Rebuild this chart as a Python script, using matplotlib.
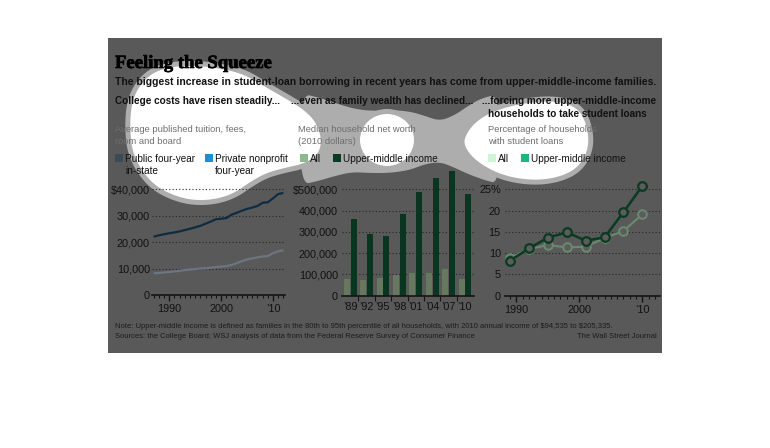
import numpy as np
import matplotlib
matplotlib.use("Agg")
import matplotlib.pyplot as plt
import matplotlib.patheffects as pe
from matplotlib.patches import Rectangle, Polygon, Ellipse
from matplotlib.ticker import MultipleLocator, FixedLocator

# ---------------- data ----------------
tuition_years = list(range(1987, 2013))
tuition_public = [8200, 8300, 8500, 8700, 8900, 9100, 9400, 9600, 9800, 10000,
                  10100, 10300, 10500, 10700, 10900, 11300, 12000, 12800, 13400,
                  13800, 14200, 14500, 14700, 15800, 16500, 16900]
tuition_private = [22000, 22500, 22900, 23300, 23600, 24000, 24500, 25000, 25500,
                   26100, 26900, 27700, 28600, 28800, 29000, 30300, 31000, 31800,
                   32500, 33000, 33600, 34800, 35000, 36500, 38100, 38500]
tuition_series = ["Public four-year\nin-state", "Private nonprofit\nfour-year"]
tuition_yticks = [0, 10000, 20000, 30000, 40000]
tuition_ylabels = ["0", "10,000", "20,000", "30,000", "$40,000"]

scf_years = [1989, 1992, 1995, 1998, 2001, 2004, 2007, 2010]
scf_labels = ["\u201989", "\u201992", "\u201995", "\u201998", "\u201901", "\u201904", "\u201907", "\u201910"]
networth_all = [79100, 73400, 81800, 96700, 106100, 107200, 126400, 77300]
networth_upper = [360000, 290000, 279000, 384000, 489000, 555000, 588000, 477000]
networth_yticks = [0, 100000, 200000, 300000, 400000, 500000]
networth_ylabels = ["0", "100,000", "200,000", "300,000", "400,000", "$500,000"]

loans_all = [8.9, 10.9, 11.9, 11.3, 11.5, 13.5, 15.2, 19.1]
loans_upper = [8.2, 11.1, 13.6, 14.9, 12.9, 13.7, 19.6, 25.8]
loans_yticks = [0, 5, 10, 15, 20, 25]
loans_ylabels = ["0", "5", "10", "15", "20", "25%"]

year_ticks = [1990, 2000, 2010]
year_labels = ["1990", "2000", "\u201910"]
group_series = ["All", "Upper-middle income"]

# ---------------- style ----------------
plt.rcParams["font.family"] = ["Liberation Sans", "DejaVu Sans"]
DIM_BG = "#595959"
RING = "#adadad"
INK = "#111111"
TICK_FS = 7.8

W, H = 770, 448
fig = plt.figure(figsize=(W / 100, H / 100), dpi=100)
renderer = fig.canvas.get_renderer()


def px_axes(l, t, r, b, z):
    return fig.add_axes([l / W, 1 - b / H, (r - l) / W, (b - t) / H], zorder=z)


def chaikin(pts, n=4):
    p = np.asarray(pts, float)
    for _ in range(n):
        nxt = np.roll(p, -1, axis=0)
        q = 0.75 * p + 0.25 * nxt
        r = 0.25 * p + 0.75 * nxt
        p = np.empty((2 * len(q), 2))
        p[0::2] = q
        p[1::2] = r
    return p


# ---------------- background / spotlight ----------------
bg = px_axes(0, 0, W, H, 0)
bg.set_xlim(0, W)
bg.set_ylim(H, 0)
bg.axis("off")

bg.add_patch(Rectangle((108, 38), 554, 315, facecolor=DIM_BG, edgecolor="none", zorder=1))

left_lobe = [(136, 91), (148, 76), (162, 69), (179, 66), (200, 66), (216, 68), (232, 71),
             (247, 76), (262, 85), (283, 97), (303, 109), (316, 122), (322, 140),
             (318, 155), (303, 164), (284, 168), (266, 173), (250, 182), (233, 194),
             (212, 200), (190, 200), (170, 194), (153, 184), (140, 168), (132, 150),
             (130, 128), (131, 108)]
right_lobe = [(463, 143), (468, 131), (477, 121), (490, 113), (507, 107), (527, 103),
              (548, 101), (566, 103), (579, 110), (586, 123), (589, 140), (586, 155),
              (577, 168), (562, 176), (542, 180), (520, 179), (500, 174), (484, 166),
              (471, 156)]
neck = [(300, 93), (320, 98), (338, 104), (355, 109), (372, 111), (395, 110), (412, 112),
        (425, 116), (440, 121), (455, 115), (468, 106), (482, 98), (500, 94),
        (500, 184), (484, 180), (468, 174), (453, 167), (440, 162), (425, 164),
        (410, 170), (390, 173), (370, 173), (352, 172), (335, 176), (318, 181), (300, 185)]

ring_lw = 10 * 72 / 100
bg.add_patch(Polygon(chaikin(neck), closed=True, facecolor=RING, edgecolor="none", zorder=2))
for pts in (left_lobe, right_lobe):
    bg.add_patch(Polygon(chaikin(pts), closed=True, facecolor=RING, edgecolor=RING,
                         lw=ring_lw, joinstyle="round", zorder=2))
    bg.add_patch(Polygon(chaikin(pts), closed=True, facecolor="white", edgecolor="none", zorder=3))
bg.add_patch(Ellipse((387, 140), 54, 52, facecolor=RING, edgecolor=RING, lw=ring_lw, zorder=2))
bg.add_patch(Ellipse((387, 140), 54, 52, facecolor="white", edgecolor="none", zorder=3))


# ---------------- texts ----------------
def fit_size(s, target, **kw):
    tmp = bg.text(0, 0, s, fontsize=10, parse_math=False, **kw)
    w = tmp.get_window_extent(renderer).width
    tmp.remove()
    return 10 * target / w


def t(x, y, s, **kw):
    kw.setdefault("va", "baseline")
    kw.setdefault("ha", "left")
    kw.setdefault("color", INK)
    kw.setdefault("zorder", 5)
    return bg.text(x, y, s, parse_math=False, **kw)


TITLE_FONT = ["Liberation Serif", "DejaVu Serif"]
title_fs = fit_size("Feeling the Squeeze", 158, family=TITLE_FONT, weight="bold")
t(115, 68, "Feeling the Squeeze", family=TITLE_FONT, weight="bold", fontsize=title_fs,
  color="#000000", path_effects=[pe.withStroke(linewidth=0.45, foreground="#000000")])

sub = ("The biggest increase in student-loan borrowing in recent years has come from "
       "upper-middle-income families.")
t(115, 85, sub, weight="bold", fontsize=fit_size(sub, 543, weight="bold"))

head_fs = fit_size("...forcing more upper-middle-income", 175, weight="bold")
t(115, 104, "College costs have risen steadily...", weight="bold", fontsize=head_fs)
t(291, 104, "...even as family wealth has declined...", weight="bold", fontsize=head_fs)
t(482, 104, "...forcing more upper-middle-income", weight="bold", fontsize=head_fs)
t(488, 117, "households to take student loans", weight="bold", fontsize=head_fs)

GREY = "#6e6e6e"
desc_fs = fit_size("Average published tuition, fees,", 131)
t(115, 132, "Average published tuition, fees,", fontsize=desc_fs, color=GREY)
t(115, 144.5, "room and board", fontsize=desc_fs, color=GREY)
t(298, 132, "Median household net worth", fontsize=desc_fs, color=GREY)
t(298, 144.5, "(2010 dollars)", fontsize=desc_fs, color=GREY)
t(488, 132, "Percentage of households", fontsize=desc_fs, color=GREY)
t(488, 144.5, "with student loans", fontsize=desc_fs, color=GREY)

leg_fs = fit_size("Upper-middle income", 95)


def swatch(x, color, label):
    bg.add_patch(Rectangle((x, 154), 8, 8, facecolor=color, edgecolor="none", zorder=5))
    for i, line in enumerate(label.split("\n")):
        t(x + 10, 161.5 + 12.7 * i, line, fontsize=leg_fs)


swatch(115, "#3b4a57", tuition_series[0])
swatch(205, "#1a8fd6", tuition_series[1])
swatch(300, "#8db894", group_series[0])
swatch(333, "#0b3a22", group_series[1])
swatch(488, "#cdf5d6", group_series[0])
swatch(521, "#1fb57c", group_series[1])

FOOT = "#1c1c1c"
note = ("Note: Upper-middle income is defined as families in the 80th to 95th percentile "
        "of all households, with 2010 annual income of $94,535 to $205,335.")
foot_fs = fit_size(note, 495)
t(115, 328.5, note, fontsize=foot_fs, color=FOOT)
t(115, 338.5, "Sources: the College Board; WSJ analysis of data from the Federal Reserve "
              "Survey of Consumer Finance", fontsize=foot_fs, color=FOOT)
t(657, 338.5, "The Wall Street Journal", fontsize=foot_fs, color=FOOT, ha="right")

# ---------------- chart axes ----------------
GRID = dict(color="#262626", lw=0.8, ls=(0, (1, 2)))
AXC = "#141414"


def style(ax, ypad):
    ax.set_facecolor("none")
    for s in ("left", "right", "top"):
        ax.spines[s].set_visible(False)
    ax.spines["bottom"].set_color(AXC)
    ax.spines["bottom"].set_linewidth(1.2)
    ax.yaxis.grid(True, **GRID)
    ax.set_axisbelow(True)
    ax.tick_params(axis="y", length=0, pad=ypad, labelsize=TICK_FS, labelcolor=INK)
    ax.tick_params(axis="x", which="major", length=4, width=1, color=AXC, pad=2.5,
                   labelsize=TICK_FS, labelcolor=INK)
    ax.tick_params(axis="x", which="minor", length=2.5, width=0.8, color=AXC)


# left: tuition
ax1 = px_axes(152, 183, 285, 295, 1)
ax1.plot(tuition_years, tuition_public, color="#6b7680", lw=1.6, solid_capstyle="butt")
ax1.plot(tuition_years, tuition_private, color="#0e2c42", lw=1.6, solid_capstyle="butt")
ax1.set_xlim(1986.7, 2012.3)
ax1.set_ylim(0, 40000 * (295 - 183) / (295 - 189))
ax1.set_yticks(tuition_yticks, tuition_ylabels)
ax1.set_xticks(year_ticks, year_labels)
ax1.xaxis.set_minor_locator(MultipleLocator(1))
style(ax1, 1.5)

# middle: net worth
ax2 = px_axes(342, 160, 474, 295.5, 1)
xs = np.arange(len(scf_years))
ax2.bar(xs - 0.21, networth_all, width=0.37, color="#66795f")
ax2.bar(xs + 0.21, networth_upper, width=0.37, color="#0a3520")
ax2.set_xlim(-0.5, 7.55)
ax2.set_ylim(0, 500000 * (295.5 - 160) / (295.5 - 189.3))
ax2.set_yticks(networth_yticks, networth_ylabels)
ax2.set_xticks(xs, scf_labels)
ax2.xaxis.set_minor_locator(FixedLocator(xs[:-1] + 0.5))
style(ax2, 3)
ax2.tick_params(axis="x", which="major", length=0, pad=5)
ax2.tick_params(axis="x", which="minor", length=3.5)

# right: student loans
ax3 = px_axes(505, 183, 660, 295.5, 1)
ax3.plot(scf_years, loans_all, color="#6a8a70", lw=1.5, marker="o", ms=6.2,
         mfc="#5c5c5c", mec="#6a8a70", mew=1.4, clip_on=False)
ax3.plot(scf_years, loans_upper, color="#0b3a22", lw=1.8, marker="o", ms=6.2,
         mfc="#5c5c5c", mec="#0b3a22", mew=1.6, clip_on=False)
ax3.set_xlim(1988.2, 2012.8)
ax3.set_ylim(0, 25 * (295.5 - 183) / (295.5 - 189.3))
ax3.set_yticks(loans_yticks, loans_ylabels)
ax3.set_xticks(year_ticks, year_labels)
ax3.xaxis.set_minor_locator(MultipleLocator(1))
style(ax3, 3)

fig.savefig("out.png", dpi=100)
